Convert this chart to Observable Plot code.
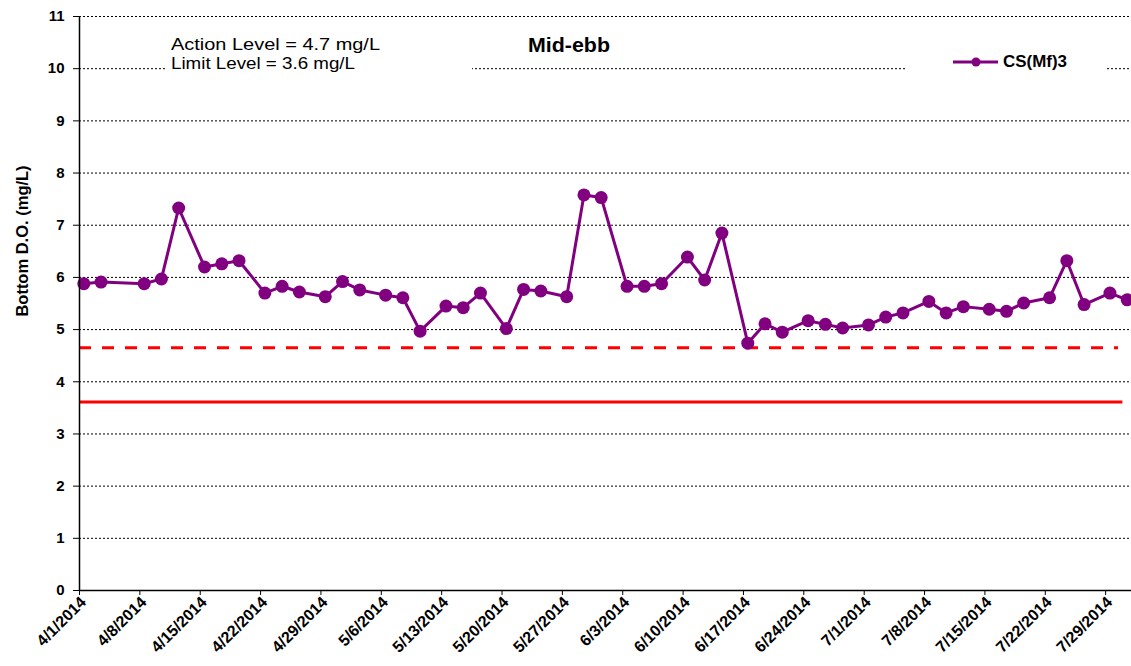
<!DOCTYPE html>
<html>
<head>
<meta charset="utf-8">
<script src="https://cdn.jsdelivr.net/npm/d3@7"></script>
<script src="https://cdn.jsdelivr.net/npm/@observablehq/plot@0.6"></script>
<style>
  html, body { margin: 0; padding: 0; background: #fff; }
  #chart svg { display: block; }
</style>
</head>
<body>
<div id="chart"></div>
<script>
// ---- data ----
const seriesName = "CS(Mf)3";
const titleText = "Mid-ebb";
const yLabel = "Bottom D.O. (mg/L)";
const dates = ["2014-04-01","2014-04-03","2014-04-08","2014-04-10","2014-04-12","2014-04-15","2014-04-17","2014-04-19","2014-04-22","2014-04-24","2014-04-26","2014-04-29","2014-05-01","2014-05-03","2014-05-06","2014-05-08","2014-05-10","2014-05-13","2014-05-15","2014-05-17","2014-05-20","2014-05-22","2014-05-24","2014-05-27","2014-05-29","2014-05-31","2014-06-03","2014-06-05","2014-06-07","2014-06-10","2014-06-12","2014-06-14","2014-06-17","2014-06-19","2014-06-21","2014-06-24","2014-06-26","2014-06-28","2014-07-01","2014-07-03","2014-07-05","2014-07-08","2014-07-10","2014-07-12","2014-07-15","2014-07-17","2014-07-19","2014-07-22","2014-07-24","2014-07-26","2014-07-29","2014-07-31"];
const values = [5.88,5.91,5.88,5.97,7.33,6.20,6.26,6.32,5.70,5.83,5.72,5.63,5.92,5.76,5.66,5.61,4.97,5.45,5.42,5.70,5.02,5.77,5.74,5.63,7.58,7.53,5.83,5.83,5.88,6.39,5.95,6.85,4.74,5.11,4.95,5.17,5.10,5.03,5.09,5.24,5.32,5.54,5.32,5.44,5.39,5.35,5.51,5.61,6.32,5.48,5.70,5.57];
const levelNames = ["Action Level", "Limit Level"];
const levelLabels = ["4.7 mg/L", "3.6 mg/L"];
const levelDrawn = [4.65, 3.61];
const levelStart = ["2014-04-01T00:00", "2014-04-01T00:00"];
const levelEnd = ["2014-07-30T12:00", "2014-07-31T00:00"];
const xDomain = ["2014-04-01", "2014-08-01"];
const xTickStart = "2014-04-01", xTickEnd = "2014-07-30";
const yTicks = [0,1,2,3,4,5,6,7,8,9,10,11];

// ---- build ----
const utc = s => new Date(s.length === 10 ? s + "T00:00:00Z" : s + ":00Z");
const data = dates.map((d, i) => ({date: new Date(d + "T12:00:00Z"), value: values[i]}));
const levels = levelNames.map((n, i) => ({name: n, value: levelDrawn[i], start: utc(levelStart[i]), end: utc(levelEnd[i])}));
const x0 = utc(xDomain[0]), x1 = utc(xDomain[1]);
const xTicks = d3.utcTuesday.range(utc(xTickStart), utc(xTickEnd));
const fmt = d3.utcFormat("%-m/%-d/%Y");
const purple = "#800080", red = "#ff0000";

const chart = Plot.plot({
  width: 1131, height: 666,
  marginTop: 16, marginBottom: 76, marginLeft: 79, marginRight: 0,
  style: {fontFamily: "'Liberation Sans', Arial, sans-serif", fontWeight: "bold", fontSize: "15px", color: "#000", background: "#fff"},
  x: {type: "utc", domain: [x0, x1]},
  y: {domain: [0, 11]},
  marks: [
    Plot.gridY(yTicks.filter(t => t > 0), {stroke: "#000", strokeOpacity: 1, strokeWidth: 1, strokeDasharray: "2,2"}),
    Plot.ruleY(levels.filter(d => d.name === "Action Level"), {y: "value", x1: "start", x2: "end", stroke: red, strokeWidth: 3, strokeDasharray: "12,11"}),
    Plot.ruleY(levels.filter(d => d.name === "Limit Level"), {y: "value", x1: "start", x2: "end", stroke: red, strokeWidth: 3}),
    Plot.line(data, {x: "date", y: "value", stroke: purple, strokeWidth: 3}),
    Plot.dot(data, {x: "date", y: "value", r: 6.5, fill: purple, stroke: "none"}),
    Plot.ruleY([0], {stroke: "#000", strokeWidth: 1.5}),
    Plot.ruleX([x0], {stroke: "#000", strokeWidth: 1.5}),
    Plot.axisY({ticks: yTicks, tickSize: 6, tickPadding: 9, label: null, fontSize: 15}),
    Plot.axisX({ticks: xTicks, tickFormat: () => "", tickSize: 5, label: null}),
    Plot.axisX({ticks: xTicks, tickFormat: fmt, tickRotate: -45, tickSize: 0, tickPadding: 9, dx: 4, label: null, fontSize: 16})
  ]
});
document.getElementById("chart").appendChild(chart);

// ---- annotations (text boxes, title, legend, axis title) ----
const svg = d3.select(chart);
const g = svg.append("g").attr("font-family", "'Liberation Sans', Arial, sans-serif").attr("text-anchor", "start");
g.append("rect").attr("x", 165).attr("y", 26).attr("width", 307).attr("height", 50).attr("fill", "#fff");
g.append("rect").attr("x", 907).attr("y", 48).attr("width", 199).attr("height", 30).attr("fill", "#fff");
g.append("text").attr("x", 171).attr("y", 50).attr("font-size", 17).attr("font-weight", "normal")
  .attr("textLength", 209).attr("lengthAdjust", "spacingAndGlyphs")
  .text(`${levelNames[0]} = ${levelLabels[0]}`);
g.append("text").attr("x", 171).attr("y", 69).attr("font-size", 17).attr("font-weight", "normal")
  .attr("textLength", 184).attr("lengthAdjust", "spacingAndGlyphs")
  .text(`${levelNames[1]} = ${levelLabels[1]}`);
g.append("text").attr("x", 528).attr("y", 52).attr("font-size", 20).attr("font-weight", "bold")
  .attr("textLength", 82).attr("lengthAdjust", "spacingAndGlyphs").text(titleText);
g.append("line").attr("x1", 953).attr("x2", 998).attr("y1", 62).attr("y2", 62).attr("stroke", purple).attr("stroke-width", 3);
g.append("circle").attr("cx", 976).attr("cy", 62).attr("r", 4.5).attr("fill", purple);
g.append("text").attr("x", 1003).attr("y", 67).attr("font-size", 16).attr("font-weight", "bold")
  .attr("textLength", 64).attr("lengthAdjust", "spacingAndGlyphs").text(seriesName);
g.append("text").attr("transform", "translate(28,241) rotate(-90)").attr("text-anchor", "middle")
  .attr("font-size", 16.5).attr("font-weight", "bold").text(yLabel);
</script>
</body>
</html>
